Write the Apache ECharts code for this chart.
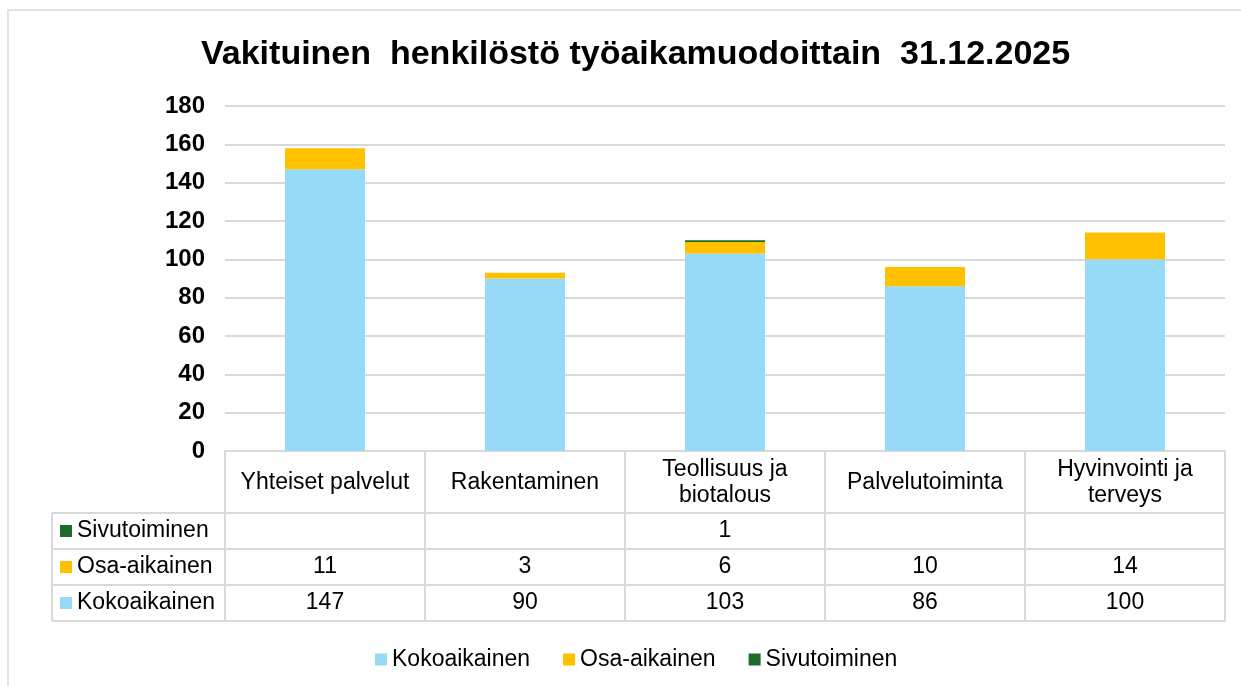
<!DOCTYPE html>
<html>
<head>
<meta charset="utf-8">
<script src="https://cdn.jsdelivr.net/npm/echarts@6/dist/echarts.min.js"></script>
<style>html,body{margin:0;padding:0;background:#fff;}#c{width:1241px;height:686px;}</style>
</head>
<body>
<div id="c"></div>
<script>
const categories = ['Yhteiset palvelut', 'Rakentaminen', 'Teollisuus ja biotalous', 'Palvelutoiminta', 'Hyvinvointi ja terveys'];
const kokoaikainen = [147, 90, 103, 86, 100];
const osaAikainen = [11, 3, 6, 10, 14];
const sivutoiminen = [null, null, 1, null, null];
const seriesNames = ['Kokoaikainen', 'Osa-aikainen', 'Sivutoiminen'];
const colors = ['#97DAF7', '#FFC000', '#1E6B2A'];
const yTicks = { min: 0, max: 180, interval: 20 };

const FONT = 'Liberation Sans';
const GRID = { left: 225, right: 16, top: 106, bottom: 235 };
const W = 1241, H = 686;
const axisY = H - GRID.bottom;      // 451
const HEADER = 62, ROW = 36;
const LINE = '#d9d9d9';
const FS = 23;

const chart = echarts.init(document.getElementById('c'), null, { renderer: 'canvas' });

// table rows, top to bottom
const tableRows = [
  { name: seriesNames[2], color: colors[2], values: sivutoiminen },
  { name: seriesNames[1], color: colors[1], values: osaAikainen },
  { name: seriesNames[0], color: colors[0], values: kokoaikainen }
];

const xAxes = [{
  type: 'category', data: categories, gridIndex: 0, position: 'bottom',
  axisLine: { show: true, lineStyle: { color: LINE, width: 2 } },
  axisTick: { show: true, length: HEADER + ROW * 3, inside: false, lineStyle: { color: LINE, width: 2 } },
  axisLabel: {
    interval: 0, margin: HEADER / 2 + 1, verticalAlign: 'middle', align: 'center',
    fontFamily: FONT, fontSize: FS, color: '#000', lineHeight: 26,
    formatter: v => v.replace(' ja ', ' ja\n')
  },
  splitLine: { show: false }
}];

tableRows.forEach((r, k) => {
  xAxes.push({
    type: 'category', data: categories, gridIndex: 0, position: 'bottom',
    offset: HEADER + ROW * k,
    axisLine: { show: true, lineStyle: { color: LINE, width: 2 } },
    axisTick: { show: false },
    splitLine: { show: false },
    axisLabel: {
      interval: 0, margin: ROW / 2, verticalAlign: 'middle', align: 'center',
      fontFamily: FONT, fontSize: FS, color: '#000',
      formatter: (v, i) => (r.values[i] == null ? '' : String(r.values[i]))
    },
    name: '{sq| }{t|' + r.name + '}',
    nameLocation: 'start',
    nameGap: GRID.left - 60,
    nameTextStyle: {
      align: 'left', verticalAlign: 'middle', padding: [ROW, 0, 0, 0],
      rich: {
        sq: { width: 12, height: 12, backgroundColor: r.color, fontSize: 12 },
        t: { fontFamily: FONT, fontSize: FS, color: '#000', padding: [0, 0, 0, 5] }
      }
    }
  });
});
// bottom border of table
xAxes.push({
  type: 'category', data: categories, gridIndex: 0, position: 'bottom',
  offset: HEADER + ROW * 3,
  axisLine: { show: true, lineStyle: { color: LINE, width: 2 } },
  axisTick: { show: false }, axisLabel: { show: false }, splitLine: { show: false }
});

const tblTop = axisY + HEADER, tblBottom = axisY + HEADER + ROW * 3, tblLeft = 52;
const graphics = [
  { type: 'rect', shape: { x: 8, y: 10, width: 1260, height: 700 }, style: { fill: 'none', stroke: LINE, lineWidth: 1.5 }, silent: true },
  { type: 'line', shape: { x1: tblLeft, y1: tblTop, x2: tblLeft, y2: tblBottom }, style: { stroke: LINE, lineWidth: 2 } }
];
for (let k = 0; k <= 3; k++) {
  const y = tblTop + ROW * k;
  graphics.push({ type: 'line', shape: { x1: tblLeft, y1: y, x2: GRID.left, y2: y }, style: { stroke: LINE, lineWidth: 2 } });
}

const dataSets = [kokoaikainen, osaAikainen, sivutoiminen];
chart.setOption({
  animation: false,
  backgroundColor: '#fff',
  title: {
    text: 'Vakituinen  henkilöstö työaikamuodoittain  31.12.2025',
    left: 196, top: 33,
    textStyle: { fontFamily: FONT, fontSize: 34, fontWeight: 'bold', color: '#000' }
  },
  legend: {
    data: seriesNames, left: 370, top: 643,
    icon: 'rect', itemWidth: 12, itemHeight: 12, itemGap: 33,
    textStyle: { fontFamily: FONT, fontSize: FS, color: '#000' }
  },
  grid: GRID,
  xAxis: xAxes,
  yAxis: {
    type: 'value', min: yTicks.min, max: yTicks.max, interval: yTicks.interval,
    axisLine: { show: false }, axisTick: { show: false },
    axisLabel: { margin: 20, fontFamily: FONT, fontSize: 24, fontWeight: 'bold', color: '#000' },
    splitLine: { lineStyle: { color: LINE, width: 2 } }
  },
  graphic: graphics,
  series: seriesNames.map((n, i) => ({
    name: n, type: 'bar', stack: 'total', barWidth: '40%',
    xAxisIndex: 0, yAxisIndex: 0,
    itemStyle: { color: colors[i] },
    data: dataSets[i]
  }))
});
</script>
</body>
</html>
